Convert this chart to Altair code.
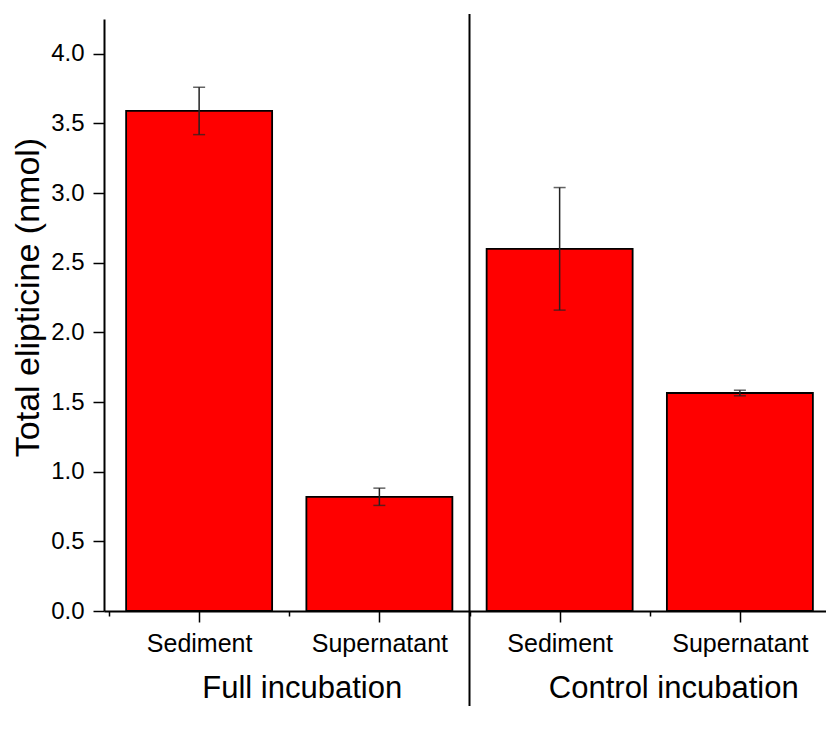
import json
import altair as alt
import pandas as pd

# ---- data ----
groups = ["Full incubation", "Full incubation", "Control incubation", "Control incubation"]
fractions = ["Sediment", "Supernatant", "Sediment", "Supernatant"]
values = [3.59, 0.82, 2.60, 1.565]
errors = [0.17, 0.062, 0.44, 0.02]
group_names = ["Full incubation", "Control incubation"]
y_tick_values = [0, 0.25, 0.5, 0.75, 1.0, 1.25, 1.5, 1.75, 2.0, 2.25, 2.5,
                 2.75, 3.0, 3.25, 3.5, 3.75, 4.0, 4.25]
x_tick_values = [-0.5, 0, 0.5, 1, 1.5, 2, 2.5, 3]

FONT = "Liberation Sans"
W, H = 722, 592

df = pd.DataFrame({
    "pos": list(range(len(values))),
    "group": groups,
    "fraction": fractions,
    "value": values,
    "err": errors,
})
df["lo"] = df["value"] - df["err"]
df["hi"] = df["value"] + df["err"]

gdf = df.groupby("group", sort=False)["pos"].mean().reset_index()
gdf = gdf.set_index("group").loc[group_names].reset_index()
gdf.columns = ["group", "mid"]

n_first = groups.count(group_names[0])
div_df = pd.DataFrame({"pos": [n_first - 0.5]})

x_scale = alt.Scale(domain=[-0.5, 3.45], nice=False, zero=False)
y_scale = alt.Scale(domain=[0, 4.25], nice=False)

x_axis = alt.Axis(
    values=x_tick_values,
    labelExpr="datum.value % 1 == 0 ? " + json.dumps(fractions) + "[datum.value] : ''",
    tickSize={"condition": {"test": "datum.value % 1 == 0", "value": 11}, "value": 5},
    tickWidth=1.5, tickColor="black",
    domainColor="black", domainWidth=2,
    labelFontSize=25, labelFont=FONT, labelColor="black", labelPadding=9,
    labelAngle=0, labelFlush=False, labelOverlap=False,
    grid=False, title=None,
)
y_axis = alt.Axis(
    values=y_tick_values,
    labelExpr="datum.value % 0.5 == 0 ? format(datum.value, '.1f') : ''",
    tickSize={"condition": {"test": "datum.value % 0.5 == 0", "value": 11}, "value": 7},
    tickWidth=1.5, tickColor="black",
    domainColor="black", domainWidth=2,
    labelFontSize=24, labelFont=FONT, labelColor="black", labelPadding=9,
    labelFlush=False, labelOverlap=False,
    grid=False,
    title="Total elipticine (nmol)",
    titleFont=FONT, titleFontSize=34, titleFontWeight="normal", titleColor="black",
    titleAngle=270, titleX=-66, titleY=278, titleAlign="center", titleBaseline="alphabetic",
)

base = alt.Chart(df)

bars = base.mark_bar(color="#FF0000", stroke="black", strokeWidth=1.8, size=146).encode(
    x=alt.X("pos:Q", scale=x_scale, axis=x_axis),
    y=alt.Y("value:Q", scale=y_scale, axis=y_axis),
)

err_rule = base.mark_rule(color="#222222", strokeWidth=1.5).encode(
    x=alt.X("pos:Q", scale=x_scale),
    y=alt.Y("lo:Q", scale=y_scale),
    y2="hi:Q",
)
cap_lo = base.mark_tick(orient="horizontal", size=12, thickness=1.5, color="#222222").encode(
    x=alt.X("pos:Q", scale=x_scale),
    y=alt.Y("lo:Q", scale=y_scale),
)
cap_hi = base.mark_tick(orient="horizontal", size=12, thickness=1.5, color="#222222").encode(
    x=alt.X("pos:Q", scale=x_scale),
    y=alt.Y("hi:Q", scale=y_scale),
)

divider = alt.Chart(div_df).mark_rule(color="black", strokeWidth=2).encode(
    x=alt.X("pos:Q", scale=x_scale),
    y=alt.value(-5),
    y2=alt.value(H + 100),
)

text_style = dict(font=FONT, fontSize=31, color="black", align="center", baseline="alphabetic")
full_text = alt.Chart(gdf).transform_filter(
    alt.datum.group == group_names[0]
).mark_text(dx=13, **text_style).encode(
    x=alt.X("mid:Q", scale=x_scale),
    y=alt.value(H + 87),
    text="group:N",
)
control_text = alt.Chart(gdf).transform_filter(
    alt.datum.group == group_names[1]
).mark_text(dx=24, **text_style).encode(
    x=alt.X("mid:Q", scale=x_scale),
    y=alt.value(H + 87),
    text="group:N",
)

chart = alt.layer(bars, err_rule, cap_lo, cap_hi, divider, full_text, control_text).properties(
    width=W, height=H,
    background="white",
    autosize=alt.AutoSizeParams(type="none"),
    padding={"left": 96, "top": 11, "right": 0, "bottom": 95},
).configure_view(strokeWidth=0)

chart.save("out.html", embed_options={"renderer": "svg", "actions": False})
